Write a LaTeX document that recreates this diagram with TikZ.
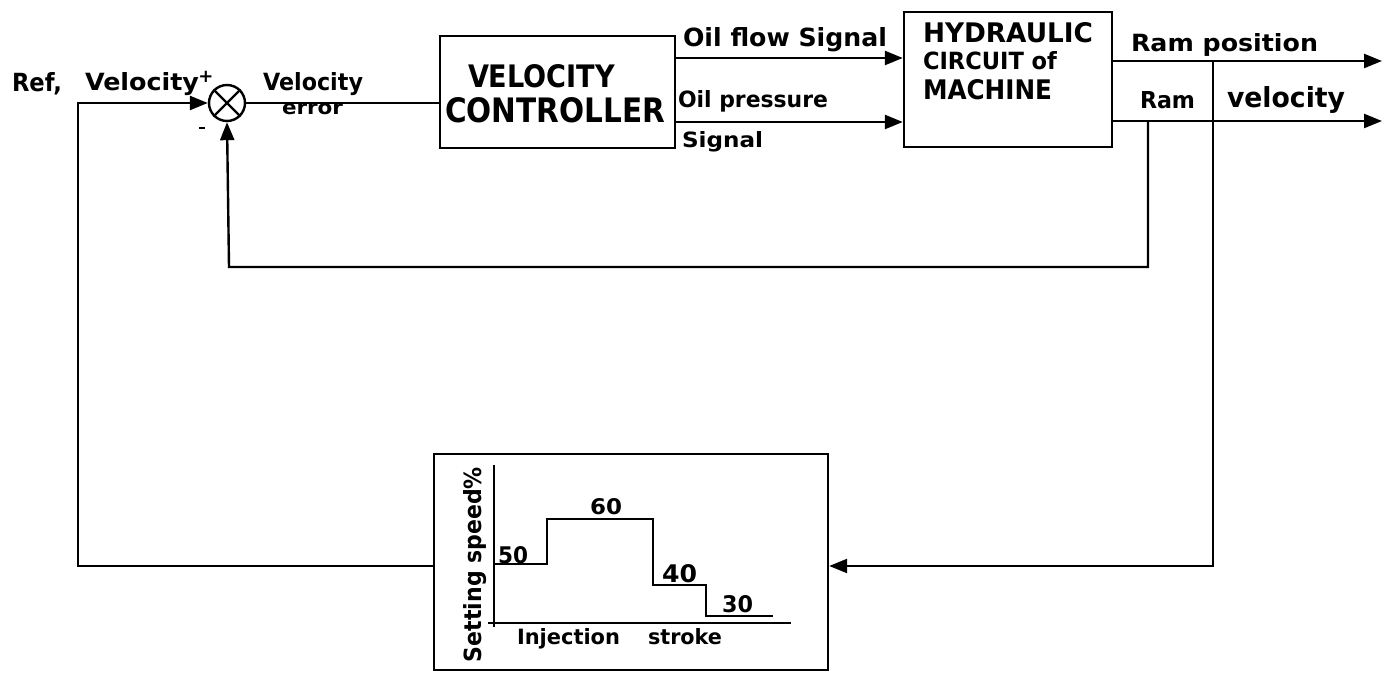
\documentclass[tikz,border=0pt]{standalone}
\usepackage{fontspec}
\setmainfont{DejaVu Sans}
\usetikzlibrary{arrows.meta}
\newdimen\pxu \pxu=0.5pt
\newcommand\lab[3]{\resizebox{#1\pxu}{#2\pxu}{\bfseries #3}}
\begin{document}
\begin{tikzpicture}[x=0.5pt,y=-0.5pt,
  line width=1.2pt,
  lbl/.style={anchor=base west,inner sep=0pt,outer sep=0pt},
  blk/.style={draw,line width=1.2pt,inner sep=0pt},
  arr/.style={-{Triangle[length=9pt,width=7pt]}},
  sign/.style={inner sep=0pt,font=\fontsize{9}{9}\selectfont\bfseries}]
\useasboundingbox (0,0) rectangle (1387,673);
% blocks
\node[blk,minimum width=117.5pt,minimum height=56pt] (vc) at (557.5,92) {};
\node[blk,minimum width=104pt,minimum height=67.5pt] (hc) at (1008,79.5) {};
\node[blk,minimum width=197pt,minimum height=108pt] (sb) at (631,562) {};
\node[circle,draw,line width=1.2pt,minimum size=18pt,inner sep=0pt] (sum) at (227,103) {};
\draw (sum.north west) -- (sum.south east);
\draw (sum.north east) -- (sum.south west);
% coordinates
\coordinate (refin) at (78,103);
\coordinate (refbot) at (78,566);
\coordinate (posout) at (1382,61);
\coordinate (velout) at (1382,121);
\coordinate (ptap) at (1213,61);
\coordinate (pbot) at (1213,566);
\coordinate (vtap) at (1148,121);
\coordinate (vbot) at (1148,267);
\coordinate (fbl) at (229,267);
% connectors
\draw (sum.east) -- (sum.east -| vc.west);
\draw[arr] (vc.east |- 0,58) -- (hc.west |- 0,58);
\draw[arr] (vc.east |- 0,122) -- (hc.west |- 0,122);
\draw[arr] (hc.east |- posout) -- (posout);
\draw[arr] (hc.east |- velout) -- (velout);
\draw[arr] (ptap) -- (pbot) -- (sb.east |- pbot);
\draw[arr] (vtap) -- (vbot) -- (fbl) -- (sum.south);
\draw[arr] (sb.west |- refbot) -- (refbot) -- (refin) -- (sum.west);
% labels top
\node[lbl] at (12,92) {\lab{50}{19}{Ref,}};
\node[lbl] at (85,91) {\lab{114}{18}{Velocity}};
\node[sign] at (206,77) {+};
\node[sign] at (202,128) {\rule{3pt}{1.1pt}};
\node[lbl] at (263,91) {\lab{100}{18}{Velocity}};
\node[lbl] at (282,115) {\lab{61}{11}{error}};
\node[lbl] at (468,88) {\lab{147}{23}{VELOCITY}};
\node[lbl] at (445,123) {\lab{220}{25}{CONTROLLER}};
\node[lbl] at (683,47) {\lab{204}{19}{Oil flow Signal}};
\node[lbl] at (678,108) {\lab{150}{17}{Oil pressure}};
\node[lbl] at (682,148) {\lab{81}{16}{Signal}};
\node[lbl] at (923,43) {\lab{170}{20}{HYDRAULIC}};
\node[lbl] at (923,70) {\lab{134}{18}{CIRCUIT of}};
\node[lbl] at (923,100) {\lab{129}{20}{MACHINE}};
\node[lbl] at (1131,52) {\lab{187}{18}{Ram position}};
\node[lbl] at (1140,109) {\lab{55}{17}{Ram}};
\node[lbl] at (1227,108) {\lab{118}{21}{velocity}};
% graph in setting box
\draw (494,465) -- (494,627);
\draw (488,623) -- (791,623);
\draw (494,564) -- (547,564) -- (547,519) -- (653,519) -- (653,585) -- (706,585) -- (706,616) -- (773,616);
\node[lbl] at (498,563) {\lab{30}{17}{50}};
\node[lbl] at (590,515) {\lab{32}{16}{60}};
\node[lbl] at (662,582) {\lab{35}{18}{40}};
\node[lbl] at (722,612) {\lab{31}{17}{30}};
\node[lbl] at (517,644) {\lab{103}{16}{Injection}};
\node[lbl] at (648,644) {\lab{74}{16}{stroke}};
\node[lbl,rotate=90] at (481,662) {\lab{195}{18}{Setting speed\%}};
\end{tikzpicture}
\end{document}
